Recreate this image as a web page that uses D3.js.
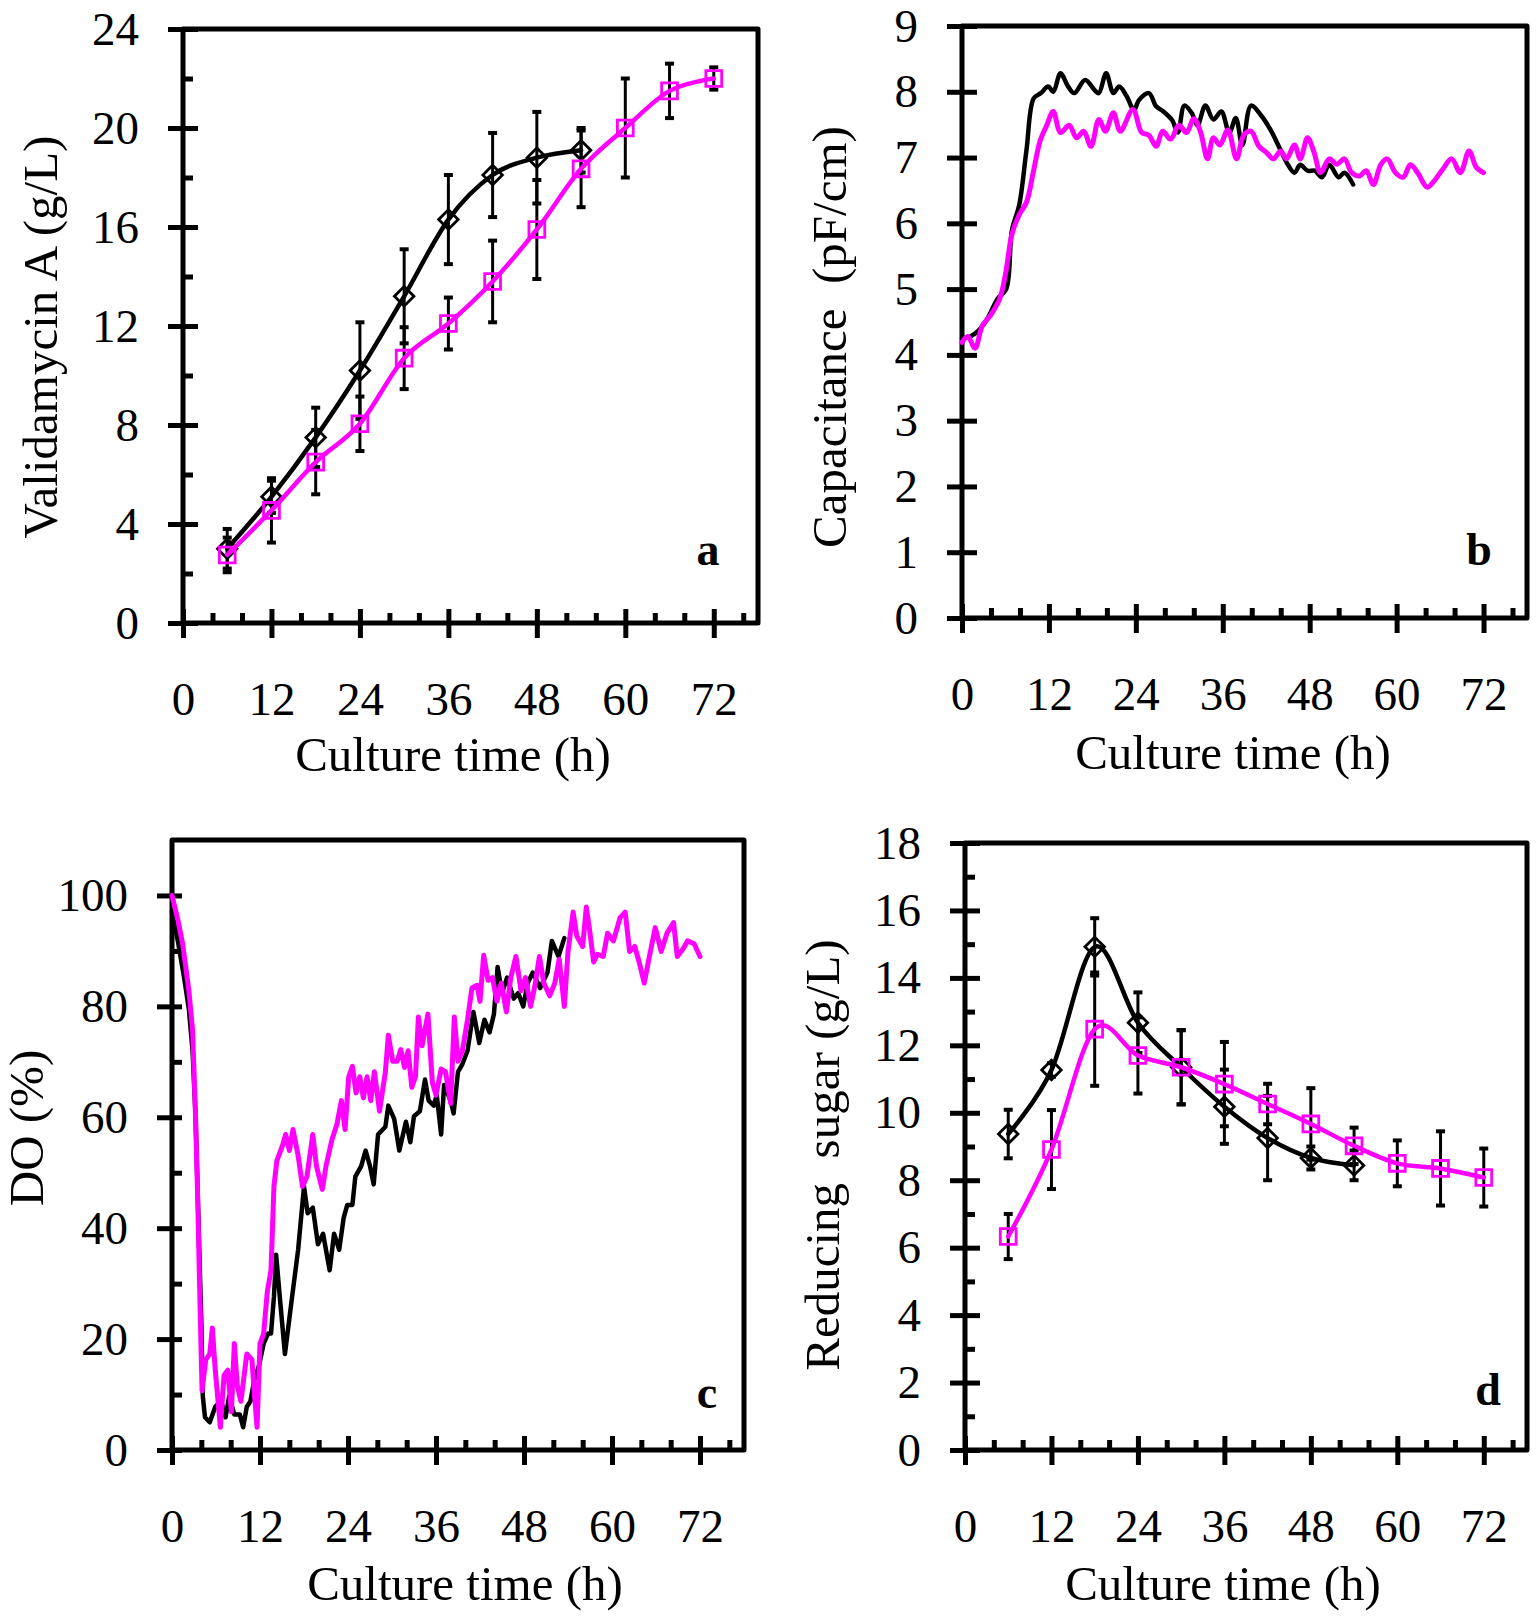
<!DOCTYPE html>
<html><head><meta charset="utf-8">
<script src="https://cdn.jsdelivr.net/npm/d3@7"></script>
<style>html,body{margin:0;padding:0;background:#fff;}svg{display:block;}</style>
</head><body>
<script>
// ---------------- DATA ----------------
const xMajorTicks = [0,12,24,36,48,60,72];
const xMinorTicks = [4,8,16,20,28,32,40,44,52,56,64,68,76];

// Panel a: Validamycin A (g/L)
const vaHours = [6,12,18,24,30,36,42,48,54,60,66,72];
const vaCtrl = [3.0,5.1,7.5,10.2,13.2,16.3,18.1,18.8,19.1];
const vaCtrlErr = [0.8,0.65,1.2,1.95,1.9,1.8,1.7,1.85,0.9];
const vaTreat = [2.75,4.55,6.5,8.05,10.7,12.1,13.8,15.9,18.35,20.0,21.5,22.0];
const vaTreatErr = [0.7,1.3,1.3,1.1,1.25,1.05,1.65,2.0,1.55,2.0,1.1,0.45];
const vaYTicks = [0,4,8,12,16,20,24];
const vaYMinor = [2,6,10,14,18,22];

// Panel b: Capacitance (pF/cm)
const capHoursBlack = [0,1.15,2.2,3.5,4.9,6.1,6.9,7.9,8.9,9.9,10.9,11.9,12.6,13.6,14.6,15.5,17.0,18.35,18.9,19.9,20.9,21.7,22.7,23.75,24.4,25.8,26.8,27.8,29.0,29.8,30.7,31.7,32.5,33.6,34.7,35.8,36.9,37.8,38.7,39.9,41.3,42.6,44.0,45.0,45.9,46.7,47.7,48.7,49.7,50.7,52.0,52.8,54.0];
const capBlack = [4.25,4.28,4.36,4.55,4.85,5.0,5.9,6.28,7.11,7.9,7.98,8.08,8.0,8.28,8.09,7.98,8.18,8.02,7.98,8.28,7.98,8.08,7.94,7.72,7.87,7.98,7.78,7.7,7.57,7.38,7.79,7.68,7.49,7.79,7.58,7.7,7.38,7.6,7.19,7.79,7.64,7.42,7.11,6.89,6.77,6.89,6.8,6.8,6.7,6.89,6.7,6.77,6.59];
const capHoursPink = [0,0.8,1.8,2.8,4.05,5.2,6.07,6.88,7.9,8.9,9.9,10.8,11.7,12.6,13.6,14.8,15.8,16.8,17.8,18.9,19.8,20.9,21.85,23.6,24.8,25.8,26.8,27.7,28.8,29.95,31.0,32.0,32.9,33.9,34.7,35.6,36.7,37.9,38.9,39.9,41.0,42.0,43.0,44.0,44.8,45.9,46.7,47.7,48.6,49.5,50.7,51.75,52.8,53.8,54.9,55.8,56.8,57.8,58.7,59.85,60.9,61.9,62.9,64.2,65.0,66.3,67.6,68.8,70.0,71.0,72.0];
const capPink = [4.19,4.28,4.1,4.44,4.62,4.85,5.27,5.83,6.13,6.32,6.81,7.26,7.49,7.7,7.38,7.49,7.3,7.4,7.17,7.58,7.4,7.68,7.4,7.73,7.38,7.34,7.17,7.4,7.28,7.49,7.38,7.59,7.4,6.98,7.3,7.19,7.42,6.98,7.34,7.4,7.17,7.08,6.98,7.1,6.98,7.19,6.98,7.3,7.08,6.77,6.98,6.9,6.98,6.77,6.72,6.8,6.59,6.89,6.98,6.77,6.7,6.89,6.77,6.55,6.62,6.81,6.98,6.77,7.1,6.85,6.77];
const capYTicks = [0,1,2,3,4,5,6,7,8,9];

// Panel c: DO (%)
const doHoursBlack = [0,0.8,1.65,2.3,2.8,3.2,3.6,4.0,4.2,4.5,5.15,5.9,6.7,7.3,7.8,8.5,9.25,9.7,10.2,10.7,11.2,11.9,12.5,13.1,13.5,13.9,14.2,14.7,15.4,16.2,17.2,18.0,18.5,19.2,19.9,20.6,21.5,22.1,22.8,23.4,23.9,24.6,25.0,25.8,26.4,27.0,27.5,28.1,29.1,29.5,30.3,31.0,31.9,32.5,33.0,33.8,34.5,35.0,35.7,36.1,36.7,37.1,38.0,38.4,39.0,39.6,40.3,41.1,41.9,42.6,43.3,43.9,44.4,45.0,45.7,46.6,47.2,47.9,48.5,49.2,50.2,51.2,51.8,52.7,53.5];
const doBlack = [97,91.8,85.2,79.5,72,60.7,41.8,22.9,9.7,5.9,5.0,7.8,8.8,5.9,9.7,6.4,6.4,4.1,7.8,8.8,12.5,15.4,19.2,21,21,27.6,35.2,27.6,17.3,25.8,36.1,47.5,42.7,43.7,37.1,39,32.4,39,36.1,41.8,44.2,44.2,49.3,51.2,54,51.2,47.9,56.9,58.3,62.1,59.7,54,59.2,55.5,60.2,61.1,66.8,63,62.1,64,56.9,65.8,63,60.7,68.2,69.6,72,79,73.4,77.6,75.3,78.6,87.1,82.4,85.2,81.4,82.4,80,84.2,86.1,83.3,86.1,91.8,89,92.3];
const doHoursPink = [0,0.8,1.45,2.3,2.8,3.2,3.5,3.8,4.1,4.6,5.15,5.5,5.9,6.6,7.1,7.6,8.1,8.5,8.9,9.4,10.2,10.9,11.2,11.6,12.0,12.5,13.0,13.5,13.9,14.3,15.1,15.5,16.0,16.5,17.2,17.8,18.4,19.2,19.7,20.5,21.0,21.8,22.5,23.1,23.6,24.1,24.6,25.1,25.6,26.1,26.6,27.1,27.6,28.3,29.1,29.5,30.1,30.7,31.2,31.7,32.2,32.7,33.2,33.6,34.1,34.9,35.5,36.0,36.7,37.3,38.0,38.5,39.0,39.6,40.3,40.9,41.6,42.0,42.5,43.1,43.7,44.3,44.9,45.6,46.2,46.9,47.6,48.2,48.9,49.5,50.1,50.7,51.5,52.2,52.8,53.5,54.0,54.7,55.2,56.0,56.5,56.9,57.5,58.0,58.8,59.4,60.2,61.1,61.8,62.4,63.1,63.7,64.4,65.1,65.9,66.7,67.5,68.4,68.9,69.7,70.3,71.2,72.0];
const doPink = [100,95.6,91.3,82.8,75.8,60.7,45.6,27.6,10.7,16.3,17.3,22,14.4,4.1,13.5,14.4,6.9,19.2,11.6,8.8,17.3,16.3,10.7,4.1,19.2,21,28.6,32.4,47.5,52.2,55,56.9,54,57.8,53.1,47.5,49.3,56.9,51.2,47,51.2,55.9,58.8,63,57.8,67.3,69.2,64.4,67.3,63.5,67.3,63,68.2,61.1,68.2,74.8,70.1,70.1,72.2,69,72,65.4,67.3,78.1,72.9,78.6,66.3,64,68.7,68.2,62.5,78.1,70.1,72,77.6,83.3,83.8,80.9,89.2,84.7,85.2,80.9,84.2,79,85.2,89,82.8,85.2,80,83.8,89,84.2,81.9,84.2,88.5,80,89.9,97,92.7,90.8,97.9,94.2,88,89.4,89,93.2,91.8,96,97,89.9,90.8,88,84.2,89,94.2,89.9,93.2,95.1,89,90.4,91.8,91.3,89];
const doYTicks = [0,20,40,60,80,100];
const doYMinor = [10,30,50,70,90];

// Panel d: Reducing sugar (g/L)
const rsHours = [6,12,18,24,30,36,42,48,54,60,66,72];
const rsCtrl = [9.37,11.27,14.92,12.67,11.35,10.18,9.25,8.66,8.44];
const rsCtrlErr = [0.72,0.2,0.85,0.9,1.1,1.1,1.25,0.34,0.44];
const rsTreat = [6.33,8.91,12.48,11.7,11.35,10.85,10.26,9.67,9.02,8.5,8.35,8.08];
const rsTreatErr = [0.67,1.17,1.68,1.13,1.1,1.25,0.6,1.06,0.54,0.68,1.1,0.86];
const rsYTicks = [0,2,4,6,8,10,12,14,16,18];
const rsYMinor = [1,3,5,7,9,11,13,15,17];

// ---------------- DRAWING ----------------
const FONT = "'Liberation Serif','Times New Roman',serif";
const PINK = '#ff00ff';
const svg = d3.select('body').append('svg').attr('width',1536).attr('height',1620);

function styleAxis(sel){
  sel.select('.domain').remove();
  sel.attr('font-family',null).attr('font-size',null);
  sel.selectAll('line').attr('stroke','#000').attr('stroke-width',5);
  sel.selectAll('text').attr('font-family',FONT).attr('font-size',47).attr('fill','#000');
}

function zip(xs, ys, es){ return ys.map((v,i)=>({x:xs[i], y:v, e: es? es[i]:0})); }

function panel(cfg){
  const x = d3.scaleLinear().domain([0,78]).range([cfg.l,cfg.r]);
  const y = d3.scaleLinear().domain([0,cfg.ymax]).range([cfg.b,cfg.t]);
  const g = svg.append('g');

  g.append('path')
    .attr('d',`M${cfg.l},${cfg.t}H${cfg.r}V${cfg.b}H${cfg.l}Z`)
    .attr('fill','none').attr('stroke','#000').attr('stroke-width',5).attr('stroke-linejoin','round');

  g.append('g').attr('transform',`translate(0,${cfg.b})`)
    .call(d3.axisBottom(x).tickValues(xMajorTicks).tickSize(15).tickPadding(43.5).tickFormat(d3.format('d')))
    .call(styleAxis);
  g.append('g').attr('transform',`translate(0,${cfg.b})`)
    .call(d3.axisTop(x).tickValues(xMajorTicks).tickSize(14).tickFormat(''))
    .call(styleAxis);
  g.append('g').attr('transform',`translate(0,${cfg.b})`)
    .call(d3.axisTop(x).tickValues(xMinorTicks).tickSize(10).tickFormat(''))
    .call(styleAxis);

  g.append('g').attr('transform',`translate(${cfg.l},0)`)
    .call(d3.axisLeft(y).tickValues(cfg.yTicks).tickSize(15).tickPadding(29).tickFormat(d3.format('d')))
    .call(styleAxis);
  g.append('g').attr('transform',`translate(${cfg.l},0)`)
    .call(d3.axisRight(y).tickValues(cfg.yTicks).tickSize(cfg.yIn).tickFormat(''))
    .call(styleAxis);
  if(cfg.yMinor){
    g.append('g').attr('transform',`translate(${cfg.l},0)`)
      .call(d3.axisRight(y).tickValues(cfg.yMinor).tickSize(10).tickFormat(''))
      .call(styleAxis);
  }

  cfg.series.forEach(s=>{
    const data = zip(s.xs, s.ys, s.errs);
    if(s.errs){
      const eg = g.append('g');
      data.forEach(d=>{
        const y1 = y(d.y - d.e), y2 = y(d.y + d.e), cx = x(d.x);
        eg.append('line').attr('x1',cx).attr('x2',cx).attr('y1',y1).attr('y2',y2)
          .attr('stroke','#000').attr('stroke-width',3);
        [y1,y2].forEach(yy=>eg.append('line').attr('x1',cx-4.5).attr('x2',cx+4.5).attr('y1',yy).attr('y2',yy)
          .attr('stroke','#000').attr('stroke-width',4));
      });
    }
    const line = d3.line().x(d=>x(d.x)).y(d=>y(d.y)).curve(s.curve || d3.curveLinear);
    g.append('path').datum(data).attr('d',line)
      .attr('fill','none').attr('stroke',s.color).attr('stroke-width',s.width||4.5)
      .attr('stroke-linejoin','round').attr('stroke-linecap','round');
    if(s.marker){
      const sym = d3.symbol().type(d3.symbolSquare).size(s.marker==='diamond'?190:250);
      g.append('g').selectAll('path').data(data).join('path')
        .attr('d',sym)
        .attr('transform',d=>`translate(${x(d.x)},${y(d.y)})${s.marker==='diamond'?' rotate(45)':''}`)
        .attr('fill','none').attr('stroke',s.color).attr('stroke-width',2.8);
    }
  });

  g.append('text').attr('x',cfg.xtx).attr('y',cfg.xty).attr('text-anchor','middle')
    .attr('font-family',FONT).attr('font-size',49).style('white-space','pre').text('Culture time (h)');
  g.append('text').attr('transform',`translate(${cfg.ytx},${cfg.yty}) rotate(-90)`).attr('text-anchor','middle')
    .attr('font-family',FONT).attr('font-size',49).style('white-space','pre').text(cfg.ytitle);
  g.append('text').attr('x',cfg.lx).attr('y',cfg.ly).attr('text-anchor','middle')
    .attr('font-family',FONT).attr('font-size',46).attr('font-weight','bold').text(cfg.letter);
}

panel({l:183,r:758,t:29,b:623,ymax:24,yTicks:vaYTicks,yMinor:vaYMinor,yIn:15,
  xtx:453,xty:771,ytx:57,yty:337,ytitle:'Validamycin A (g/L)',letter:'a',lx:708,ly:565,
  series:[
    {xs:vaHours,ys:vaCtrl,errs:vaCtrlErr,color:'#000',marker:'diamond',curve:d3.curveCardinal,width:4.5},
    {xs:vaHours,ys:vaTreat,errs:vaTreatErr,color:PINK,marker:'square',curve:d3.curveCardinal,width:4.5}
  ]});

panel({l:962,r:1527,t:26,b:618,ymax:9,yTicks:capYTicks,yMinor:null,yIn:15,
  xtx:1233,xty:769,ytx:846,yty:337,ytitle:'Capacitance  (pF/cm)',letter:'b',lx:1479,ly:565,
  series:[
    {xs:capHoursBlack,ys:capBlack,color:'#000',curve:d3.curveCatmullRom,width:4.5},
    {xs:capHoursPink,ys:capPink,color:PINK,curve:d3.curveCatmullRom,width:5}
  ]});

panel({l:172,r:744,t:840,b:1450,ymax:110,yTicks:doYTicks,yMinor:doYMinor,yIn:10,
  xtx:465,xty:1600,ytx:43,yty:1128,ytitle:'DO (%)',letter:'c',lx:707,ly:1408,
  series:[
    {xs:doHoursBlack,ys:doBlack,color:'#000',curve:d3.curveLinear,width:4.5},
    {xs:doHoursPink,ys:doPink,color:PINK,curve:d3.curveLinear,width:5}
  ]});

panel({l:965,r:1527,t:843,b:1450,ymax:18,yTicks:rsYTicks,yMinor:rsYMinor,yIn:15,
  xtx:1223,xty:1600,ytx:839,yty:1155,ytitle:'Reducing  sugar (g/L)',letter:'d',lx:1488,ly:1405,
  series:[
    {xs:rsHours,ys:rsCtrl,errs:rsCtrlErr,color:'#000',marker:'diamond',curve:d3.curveCardinal,width:4.5},
    {xs:rsHours,ys:rsTreat,errs:rsTreatErr,color:PINK,marker:'square',curve:d3.curveCardinal,width:4.5}
  ]});
</script>
</body></html>
